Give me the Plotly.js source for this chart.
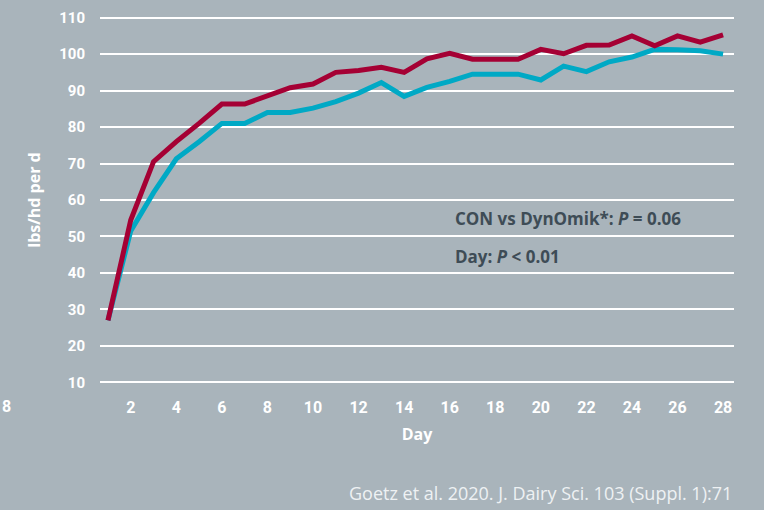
<!DOCTYPE html>
<html>
<head>
<meta charset="utf-8">
<script src="https://cdn.plot.ly/plotly-3.0.1.min.js"></script>
<style>html,body{margin:0;padding:0;background:#A9B4BB;}#chart{width:764px;height:510px;}</style>
</head>
<body>
<div id="chart"></div>
<script>
// Data (lbs/hd per d by day)
const days = [1,2,3,4,5,6,7,8,9,10,11,12,13,14,15,16,17,18,19,20,21,22,23,24,25,26,27,28];
const dynomik = [27,54.5,70.5,76,81,86.3,86.3,88.6,90.8,91.8,95,95.5,96.4,95,98.7,100.2,98.6,98.6,98.6,101.3,100.1,102.4,102.5,105,102.3,105,103.3,105.3];
const con = [27,51.5,62,71.3,76,81,81,84,84,85.2,87,89.3,92.2,88.4,90.9,92.5,94.5,94.5,94.5,92.9,96.7,95.2,97.9,99.2,101.3,101.2,100.9,100];
const xTicks = [2,4,6,8,10,12,14,16,18,20,22,24,26,28];
const yTicks = [10,20,30,40,50,60,70,80,90,100,110];
const statLines = ['CON vs DynOmik*: <i>P</i> = 0.06', 'Day: <i>P</i> < 0.01'];
const sourceText = 'Goetz et al. 2020. J. Dairy Sci. 103 (Suppl. 1):71';

const traces = [
  {x: days, y: con, type: 'scatter', mode: 'lines', name: 'CON',
   line: {color: '#00A9C5', width: 5}},
  {x: days, y: dynomik, type: 'scatter', mode: 'lines', name: 'DynOmik',
   line: {color: '#A50034', width: 5}}
];

const yTickFont = {family: 'Roboto, sans-serif', size: 15, color: '#FFFFFF', weight: 700};
const xTickFont = {family: 'Roboto, sans-serif', size: 16, color: '#FFFFFF', weight: 700};
const statFont = {family: '"Open Sans", sans-serif', size: 17, color: '#3E4C56', weight: 700};

const layout = {
  width: 764, height: 510,
  paper_bgcolor: '#A9B4BB', plot_bgcolor: '#A9B4BB',
  margin: {l: 100, r: 30, t: 14, b: 124},
  showlegend: false,
  xaxis: {
    range: [0.65, 28.48], tickvals: xTicks, ticktext: xTicks.map(String),
    showgrid: false, zeroline: false, showline: false, ticks: '',
    tickfont: xTickFont, ticklabelstandoff: 10,
    title: {text: 'Day', font: {family: '"Open Sans", sans-serif', size: 16, color: '#FFFFFF', weight: 700}, standoff: 12}
  },
  yaxis: {
    range: [9, 111], tickvals: yTicks, ticktext: yTicks.map(String),
    showgrid: true, gridcolor: '#FFFFFF', gridwidth: 2, zeroline: false, showline: false, ticks: '',
    tickfont: yTickFont, ticklabelstandoff: 14,
    title: {text: 'lbs/hd per d', font: {family: '"Open Sans", sans-serif', size: 16, color: '#FFFFFF', weight: 700}, standoff: 14}
  },
  annotations: [
    {text: statLines[0], xref: 'paper', yref: 'paper', x: 0.557, y: 0.449, xanchor: 'left', yanchor: 'middle',
     showarrow: false, font: statFont},
    {text: statLines[1], xref: 'paper', yref: 'paper', x: 0.557, y: 0.349, xanchor: 'left', yanchor: 'middle',
     showarrow: false, font: statFont},
    {text: sourceText, xref: 'paper', yref: 'paper', x: 1.0, y: -0.288, xanchor: 'right', yanchor: 'middle',
     showarrow: false, font: {family: '"Open Sans", sans-serif', size: 18, color: '#EEF1F3', weight: 400}},
    {text: '8', xref: 'paper', yref: 'paper', x: -0.1577, y: -0.056, xanchor: 'left', yanchor: 'middle',
     showarrow: false, font: xTickFont}
  ]
};

Plotly.newPlot('chart', traces, layout, {displayModeBar: false, staticPlot: true});
</script>
</body>
</html>
